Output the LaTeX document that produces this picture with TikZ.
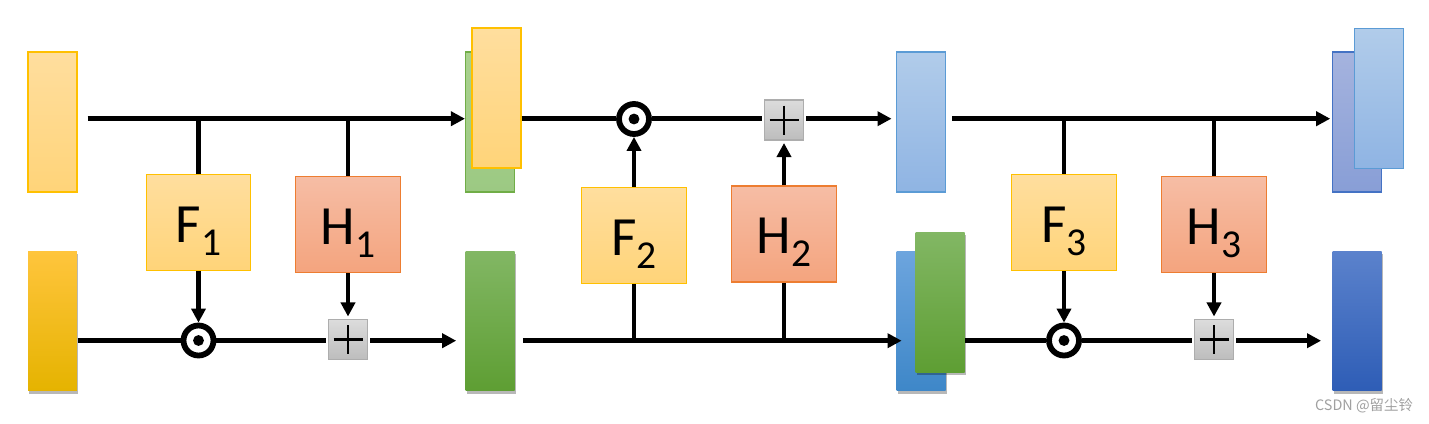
\documentclass[tikz,border=0pt]{standalone}
\usepackage{fontspec}
\setmainfont{Carlito}
\newfontfamily\cjkfont{Noto Sans CJK SC}
\usetikzlibrary{arrows.meta,shadows}
\definecolor{orT}{HTML}{FFDE9E}
\definecolor{orB}{HTML}{FFD479}
\definecolor{orD}{HTML}{FFC000}
\definecolor{goT}{HTML}{FFC53D}
\definecolor{goM}{HTML}{FFC600}
\definecolor{goB}{HTML}{E5B300}
\definecolor{hT}{HTML}{F6BDA5}
\definecolor{hB}{HTML}{F4A47E}
\definecolor{hD}{HTML}{ED7D31}
\definecolor{lgT}{HTML}{A9D18E}
\definecolor{lgB}{HTML}{9CC983}
\definecolor{lgD}{HTML}{70AD47}
\definecolor{gT}{HTML}{82B764}
\definecolor{gM}{HTML}{70AF45}
\definecolor{gB}{HTML}{5E9E33}
\definecolor{lbT}{HTML}{B1CCEA}
\definecolor{lbB}{HTML}{8FB4E3}
\definecolor{lbD}{HTML}{5B9BD5}
\definecolor{bT}{HTML}{6DA5DE}
\definecolor{bB}{HTML}{3E87C8}
\definecolor{pbT}{HTML}{A5B3DE}
\definecolor{pbB}{HTML}{889ED6}
\definecolor{pbD}{HTML}{4472C4}
\definecolor{dbT}{HTML}{5B82CC}
\definecolor{dbB}{HTML}{2E5DB6}
\definecolor{plT}{HTML}{DCDCDC}
\definecolor{plB}{HTML}{BDBDBD}
\definecolor{plD}{HTML}{ADADAD}
\definecolor{wm}{HTML}{A0A0A0}
\newcommand\fhlabel[2]{#1\raisebox{-7.4pt}{\fontsize{22.5pt}{22.5pt}\selectfont #2}}
\tikzset{
  bar/.style={rectangle, inner sep=0pt, minimum width=0.98cm, minimum height=2.8cm, line width=0.6pt},
  shad/.style={drop shadow={shadow xshift=0.6pt, shadow yshift=-1.8pt, opacity=0.28, fill=black}},
  orbar/.style={bar, draw=orD, top color=orT, bottom color=orB},
  gobar/.style={bar, shad, top color=goT, middle color=goM, bottom color=goB},
  lgbar/.style={bar, draw=lgD, top color=lgT, bottom color=lgB},
  gbar/.style={bar, shad, top color=gT, middle color=gM, bottom color=gB},
  lbbar/.style={bar, draw=lbD, top color=lbT, bottom color=lbB},
  bbar/.style={bar, shad, top color=bT, bottom color=bB},
  pbbar/.style={bar, draw=pbD, top color=pbT, bottom color=pbB},
  dbbar/.style={bar, shad, top color=dbT, bottom color=dbB},
  fhbox/.style={rectangle, inner sep=0pt, minimum width=2.09cm, minimum height=1.92cm,
    line width=0.6pt, text height=22.4pt, text depth=0pt,
    font=\fontsize{31.5pt}{31.5pt}\selectfont},
  fbox/.style={fhbox, draw=orD, top color=orT, bottom color=orB},
  hbox/.style={fhbox, draw=hD, top color=hT, bottom color=hB},
  plusbox/.style={rectangle, inner sep=0pt, minimum width=0.77cm, minimum height=0.8cm,
    outer sep=1.7pt, draw=plD, line width=0.6pt, top color=plT, bottom color=plB,
    path picture={\draw[draw=black, line width=1.6pt]
      (path picture bounding box.center) ++(-14.5,0) -- ++(29,0)
      (path picture bounding box.center) ++(0,-14.5) -- ++(0,29);}},
  odotnode/.style={circle, inner sep=0pt, minimum size=0.6cm, draw=black, line width=3.3pt, fill=white,
    path picture={\fill[black] (path picture bounding box.center) circle[radius=3.1pt];}},
  conn/.style={line width=2.7pt, draw=black},
  arr/.style={conn, -{Triangle[length=8pt,width=8pt]}},
}
\begin{document}
\begin{tikzpicture}[x=0.02cm, y=-0.02cm]
\useasboundingbox (0,0) rectangle (1429,423);
\coordinate (ty) at (0,118.7);
\coordinate (by) at (0,340.7);
% group 1 nodes
\node[orbar] (tl1) at (52.5,122) {};
\node[gobar] (bl1) at (52.5,321) {};
\node[fbox] (F1) at (198.5,222.7) {\fhlabel{F}{1}};
\node[hbox] (H1) at (348,224.7) {\fhlabel{H}{1}};
\node[odotnode] (od1) at (198.5,340.5) {};
\node[plusbox] (pl1) at (348,339.5) {};
% group 2 nodes
\node[lgbar] (tg2) at (490,122) {};
\node[orbar] (to2) at (496.5,98) {};
\node[gbar] (bg2) at (490,321) {};
\node[fbox] (F2) at (634,235.5) {\fhlabel{F}{2}};
\node[hbox] (H2) at (784,234) {\fhlabel{H}{2}};
\node[odotnode] (od2) at (634,119) {};
\node[plusbox] (pl2) at (784,120) {};
% group 3 nodes
\node[lbbar] (tb3) at (920.8,122) {};
\node[bbar] (bb3) at (921,321) {};
\node[gbar] (bg3) at (940,302.2) {};
\node[fbox] (F3) at (1064,222.7) {\fhlabel{F}{3}};
\node[hbox] (H3) at (1214,224.7) {\fhlabel{H}{3}};
\node[odotnode] (od3) at (1064,340.5) {};
\node[plusbox] (pl3) at (1214,339.5) {};
% output
\node[pbbar] (tp4) at (1357,122) {};
\node[lbbar] (tl4) at (1379,98.5) {};
\node[dbbar] (bb4) at (1357,321) {};
% group 1 connectors
\draw[arr, shorten <=5.7pt] (tl1.east |- ty) -- (tg2.west |- ty);
\draw[conn] (F1.north |- ty) -- (F1.north);
\draw[conn] (H1.north |- ty) -- (H1.north);
\draw[arr] (F1.south) -- (od1.north);
\draw[arr] (H1.south) -- (pl1.north);
\draw[conn] (bl1.east |- by) -- (od1.west |- by);
\draw[conn] (od1.east |- by) -- (pl1.west |- by);
\draw[arr, shorten >=5pt] (pl1.east |- by) -- (bg2.west |- by);
% group 2 connectors
\draw[conn] (to2.east |- ty) -- (od2.west |- ty);
\draw[conn] (od2.east |- ty) -- (pl2.west |- ty);
\draw[arr, shorten >=2.4pt] (pl2.east |- ty) -- (tb3.west |- ty);
\draw[arr, shorten <=4.4pt, shorten >=-3.2pt] (bg2.east |- by) -- (bb3.west |- by);
\draw[conn] (F2.south |- by) -- (F2.south);
\draw[conn] (H2.south |- by) -- (H2.south);
\draw[arr] (F2.north) -- (od2.south);
\draw[arr] (H2.north) -- (pl2.south);
% group 3 connectors
\draw[arr, shorten <=3.6pt, shorten >=1pt] (tb3.east |- ty) -- (tp4.west |- ty);
\draw[conn] (F3.north |- ty) -- (F3.north);
\draw[conn] (H3.north |- ty) -- (H3.north);
\draw[arr] (F3.south) -- (od3.north);
\draw[arr] (H3.south) -- (pl3.north);
\draw[conn] (bg3.east |- by) -- (od3.west |- by);
\draw[conn] (od3.east |- by) -- (pl3.west |- by);
\draw[arr, shorten >=6.2pt] (pl3.east |- by) -- (bb4.west |- by);
% watermark
\node[text=wm, font=\cjkfont\fontsize{8.2pt}{9pt}\selectfont, inner sep=0pt] (wmark) at (1364,405.5) {CSDN @留尘铃};
\end{tikzpicture}
\end{document}
